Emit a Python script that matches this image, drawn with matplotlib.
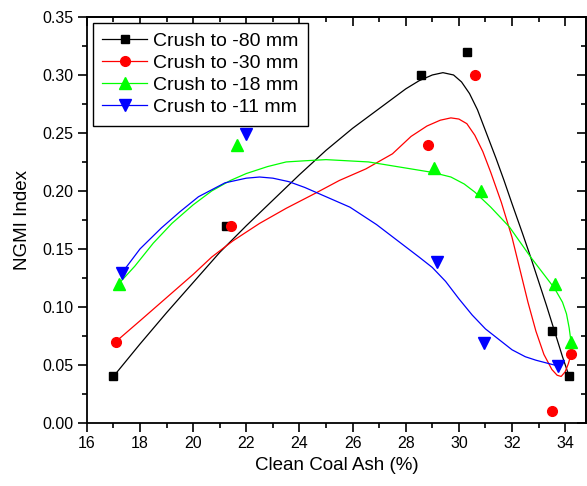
import matplotlib.pyplot as plt
from matplotlib.lines import Line2D
from matplotlib.ticker import MultipleLocator

plt.rcParams['font.family'] = ['Liberation Sans', 'DejaVu Sans']

labels = ['Crush to -80 mm', 'Crush to -30 mm', 'Crush to -18 mm', 'Crush to -11 mm']

# measured points
ash_80 = [16.97, 21.25, 28.56, 30.32, 33.5, 34.15]
ngmi_80 = [0.040, 0.170, 0.300, 0.320, 0.079, 0.040]
ash_30 = [17.09, 21.44, 28.82, 30.62, 33.5, 34.22]
ngmi_30 = [0.070, 0.170, 0.240, 0.300, 0.010, 0.059]
ash_18 = [17.2, 21.66, 29.05, 30.85, 33.62, 34.22]
ngmi_18 = [0.120, 0.240, 0.220, 0.200, 0.120, 0.070]
ash_11 = [17.31, 22.0, 29.16, 30.96, 33.74]
ngmi_11 = [0.129, 0.249, 0.139, 0.069, 0.049]

# smoothed curves
fit_x_80 = [17.0, 18.0, 19.0, 20.0, 21.0, 22.0, 23.0, 24.0, 25.0, 26.0, 27.0, 28.0, 28.5,
            29.0, 29.4, 29.8, 30.1, 30.4, 30.7, 31.0, 31.4, 31.7, 32.0, 32.4, 32.7, 33.0,
            33.3, 33.6, 33.9, 34.15]
fit_y_80 = [0.040, 0.068, 0.095, 0.121, 0.147, 0.170, 0.192, 0.214, 0.235, 0.254, 0.271, 0.288, 0.295,
            0.300, 0.302, 0.300, 0.294, 0.284, 0.270, 0.252, 0.228, 0.209, 0.189, 0.163, 0.143, 0.122,
            0.101, 0.079, 0.057, 0.040]
fit_x_30 = [17.09, 18.0, 19.0, 20.0, 20.7, 21.5, 22.5, 23.5, 24.6, 25.5, 26.5, 27.5, 28.2, 28.8,
            29.3, 29.7, 30.0, 30.3, 30.6, 30.9, 31.2, 31.6, 32.0, 32.3, 32.6, 32.9, 33.2,
            33.5, 33.7, 33.85, 34.0, 34.12, 34.22]
fit_y_30 = [0.070, 0.088, 0.108, 0.128, 0.143, 0.157, 0.172, 0.185, 0.198, 0.209, 0.219, 0.232, 0.247, 0.256,
            0.261, 0.263, 0.262, 0.258, 0.248, 0.234, 0.216, 0.190, 0.160, 0.132, 0.104, 0.079, 0.059,
            0.046, 0.041, 0.040, 0.044, 0.051, 0.059]
fit_x_18 = [17.2, 17.8, 18.5, 19.2, 20.0, 20.7, 21.4, 22.0, 22.8, 23.5, 24.2, 25.0, 25.8, 26.6,
            27.4, 28.2, 29.0, 29.7, 30.2, 30.6, 31.2, 31.9, 32.7, 33.2, 33.6, 33.9, 34.05, 34.15, 34.22]
fit_y_18 = [0.120, 0.135, 0.155, 0.172, 0.188, 0.200, 0.209, 0.215, 0.221, 0.225, 0.226, 0.227, 0.226, 0.225,
            0.222, 0.219, 0.216, 0.212, 0.206, 0.199, 0.186, 0.169, 0.143, 0.128, 0.116, 0.104, 0.094, 0.082, 0.070]
fit_x_11 = [17.31, 18.0, 18.8, 19.5, 20.2, 21.2, 22.0, 22.5, 23.0, 23.6, 24.2, 24.7, 25.3, 25.9,
            26.9, 27.7, 28.5, 29.0, 29.5, 30.0, 30.5, 31.0, 31.5, 32.0, 32.5, 32.9, 33.4, 33.74]
fit_y_11 = [0.129, 0.150, 0.168, 0.182, 0.195, 0.207, 0.211, 0.212, 0.211, 0.208, 0.203, 0.198, 0.192, 0.186,
            0.171, 0.157, 0.143, 0.134, 0.122, 0.107, 0.093, 0.081, 0.072, 0.063, 0.057, 0.054, 0.051, 0.049]

series = [
    (ash_80, ngmi_80, fit_x_80, fit_y_80, 'black', 's', 6),
    (ash_30, ngmi_30, fit_x_30, fit_y_30, 'red', 'o', 7),
    (ash_18, ngmi_18, fit_x_18, fit_y_18, '#00FF00', '^', 8),
    (ash_11, ngmi_11, fit_x_11, fit_y_11, 'blue', 'v', 8),
]

fig = plt.figure(figsize=(5.87, 4.86), dpi=100)
ax = fig.add_axes([0.148, 0.13, 0.851, 0.835])

handles = []
for (x, y, fx, fy, c, m, ms), lab in zip(series, labels):
    ax.plot(fx, fy, color=c, lw=0.9, zorder=2)
    ax.plot(x, y, ls='none', marker=m, ms=ms, color=c, mec=c, zorder=3)
    handles.append(Line2D([], [], color=c, lw=0.9, marker=m, ms=ms, mec=c))

ax.set_xlim(16, 34.8)
ax.set_ylim(0, 0.35)
ax.xaxis.set_major_locator(MultipleLocator(2))
ax.xaxis.set_minor_locator(MultipleLocator(1))
ax.yaxis.set_major_locator(MultipleLocator(0.05))
ax.yaxis.set_minor_locator(MultipleLocator(0.025))
ax.yaxis.set_major_formatter(plt.FuncFormatter(lambda v, p: '%.2f' % v))
ax.tick_params(which='both', direction='out', width=1.2, labelsize=11.5)
ax.tick_params(which='major', length=6.5, pad=3)
ax.tick_params(which='minor', length=3.5)
for s in ax.spines.values():
    s.set_linewidth(1.3)

top = ax.secondary_xaxis('top')
top.xaxis.set_major_locator(MultipleLocator(2))
top.xaxis.set_minor_locator(MultipleLocator(1))
top.tick_params(which='both', direction='in', labeltop=False, width=1.2)
top.tick_params(which='major', length=6.5)
top.tick_params(which='minor', length=3.5)
top.spines['top'].set_linewidth(1.3)

right = ax.secondary_yaxis('right')
right.yaxis.set_major_locator(MultipleLocator(0.05))
right.yaxis.set_minor_locator(MultipleLocator(0.025))
right.tick_params(which='both', direction='in', labelright=False, width=1.2)
right.tick_params(which='major', length=6.5)
right.tick_params(which='minor', length=3.5)
right.spines['right'].set_linewidth(1.3)

ax.set_xlabel('Clean Coal Ash (%)', fontsize=13.5, labelpad=4)
ax.set_ylabel('NGMI Index', fontsize=13.5, labelpad=8)

leg = ax.legend(handles, labels, loc='upper left', fontsize=14, handlelength=2.3,
                handletextpad=0.3, labelspacing=0.22, borderpad=0.5, borderaxespad=0.3,
                fancybox=False, framealpha=1, edgecolor='black')
leg.get_frame().set_linewidth(1.0)

fig.savefig('out.png', dpi=100)
